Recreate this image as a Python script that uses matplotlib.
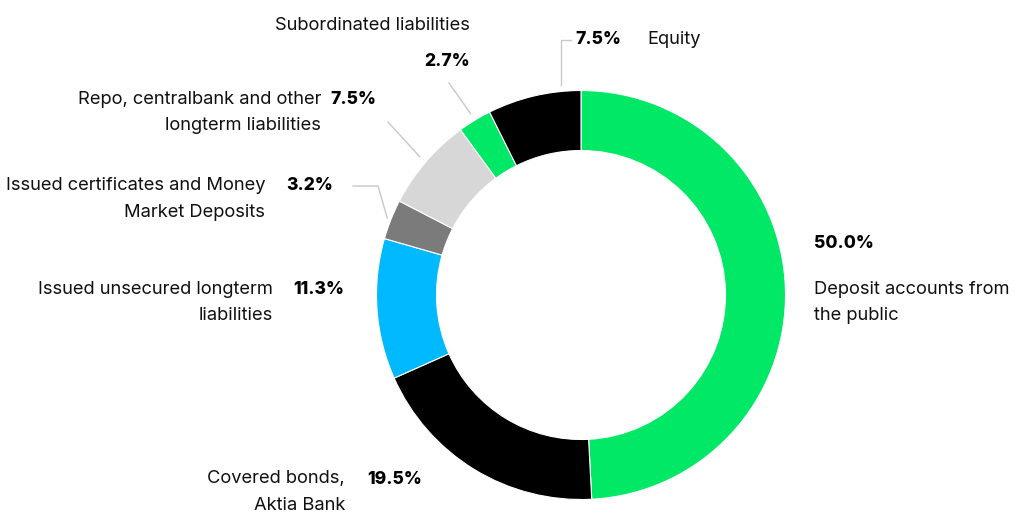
import numpy as np
import matplotlib.pyplot as plt

plt.rcParams['font.family'] = ['Inter', 'DejaVu Sans']

labels = [
    'Deposit accounts from\nthe public',
    'Covered bonds,\nAktia Bank',
    'Issued unsecured longterm\nliabilities',
    'Issued certificates and Money\nMarket Deposits',
    'Repo, centralbank and other\nlongterm liabilities',
    'Subordinated liabilities',
    'Equity',
]
shares = [50.0, 19.5, 11.3, 3.2, 7.5, 2.7, 7.5]
colors = ['#00e865', '#000000', '#00b9ff', '#7b7b7b', '#d7d7d7', '#00e865', '#000000']

W, H = 1014, 513
fig = plt.figure(figsize=(W / 100, H / 100), dpi=100)
ax = fig.add_axes([0, 0, 1, 1])

cx, cy = 581, H - 295
R, ring = 204.5, 60

wedges, _ = ax.pie(shares, colors=colors, startangle=90, counterclock=False,
                   radius=R, center=(cx, cy), frame=True,
                   wedgeprops=dict(width=ring, edgecolor='white', linewidth=0.8))
ax.set_xlim(0, W)
ax.set_ylim(0, H)
ax.set_aspect('equal')
ax.axis('off')

txt = '#111111'
fs = 13.2
lead = '#c8c8c8'


def text_block(x, y, s, ha):
    # multi-line label, y is the first line's centre in pixel rows from the top
    for i, line in enumerate(s.split('\n')):
        ax.text(x, H - (y + i * 26.5), line, ha=ha, va='center',
                fontsize=fs, color=txt)


def pct(x, y, v, ha='right'):
    ax.text(x, H - y, f'{v:.1f}%', ha=ha, va='center', fontsize=12.6,
            fontweight='heavy', color='black')


def edge_point(w, frac, off=6):
    a = np.deg2rad(w.theta1 + (w.theta2 - w.theta1) * frac)
    return cx + (R + off) * np.cos(a), cy + (R + off) * np.sin(a)


# deposit accounts, right side
pct(814, 244, shares[0], ha='left')
text_block(814, 289, labels[0], 'left')

# covered bonds
pct(422, 479, shares[1])
text_block(345, 479, labels[1], 'right')

# issued unsecured
pct(344, 289, shares[2])
text_block(273, 289, labels[2], 'right')

# certificates, with leader
pct(333, 186, shares[3])
text_block(265, 186, labels[3], 'right')
sx, sy = edge_point(wedges[3], 0.5, 4)
ax.plot([sx, 378, 353], [sy, H - 186, H - 186], color=lead, lw=1)

# repo, with leader
pct(376, 100, shares[4])
text_block(321, 99, labels[4], 'right')
sx, sy = edge_point(wedges[4], 0.5, 8)
ax.plot([sx, 388], [sy, H - 122], color=lead, lw=1)

# subordinated, with leader
pct(470, 62, shares[5])
text_block(470, 26, labels[5], 'right')
sx, sy = edge_point(wedges[5], 0.5, 8)
ax.plot([sx, 449], [sy, H - 83], color=lead, lw=1)

# equity, elbow leader
pct(621, 40, shares[6])
text_block(647, 40, labels[6], 'left')
ax.plot([561, 561, 571], [H - 85, H - 40, H - 40], color=lead, lw=1)

fig.savefig('out.png', dpi=100, facecolor='white')
